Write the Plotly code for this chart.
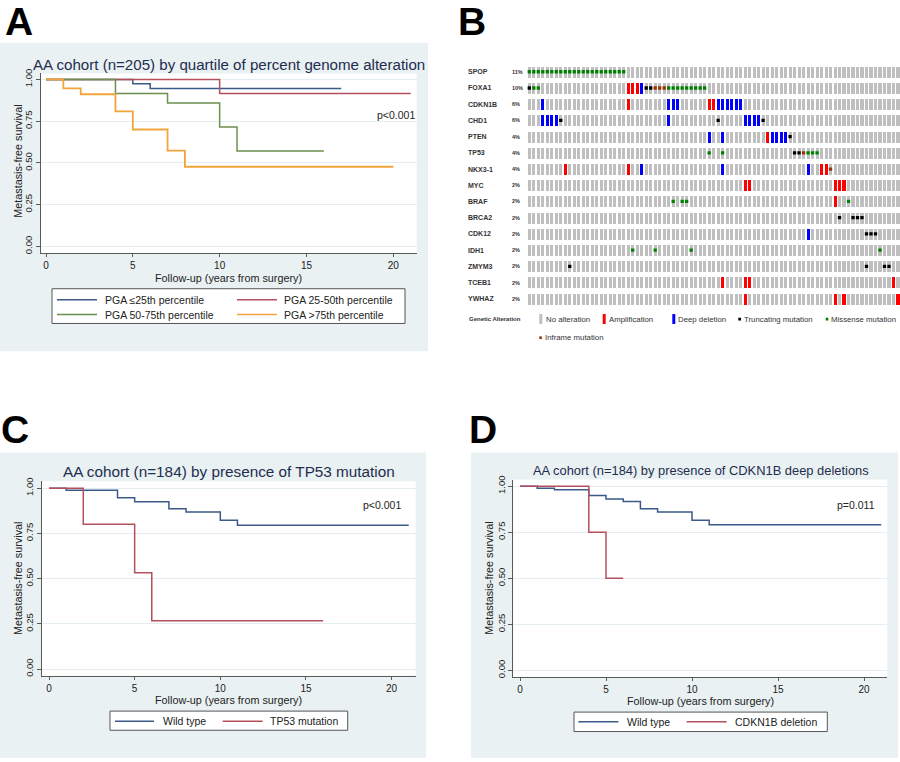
import plotly.graph_objects as go

W, H = 900, 762
FONT = "Arial, Liberation Sans, sans-serif"

# ---------------- data: panel A (KM by PGA quartile) ----------------
A_q1_t = [0, 5, 6, 17]
A_q1_s = [1.0, 0.974, 0.946, 0.946]
A_q2_t = [0, 10, 21]
A_q2_s = [1.0, 0.915, 0.915]
A_q3_t = [0, 4, 7, 10, 11, 16]
A_q3_s = [1.0, 0.915, 0.858, 0.715, 0.572, 0.572]
A_q4_t = [0, 1, 2, 4, 5, 7, 8, 20]
A_q4_s = [1.0, 0.946, 0.911, 0.808, 0.700, 0.574, 0.477, 0.477]
A_labels = ["PGA \u226425th percentile", "PGA 25-50th percentile",
            "PGA 50-75th percentile", "PGA >75th percentile"]

# ---------------- data: panel C (TP53) ----------------
C_wt_t = [0, 1, 4, 5, 7, 8, 10, 11, 21]
C_wt_s = [1.0, 0.989, 0.947, 0.925, 0.886, 0.868, 0.823, 0.795, 0.795]
C_mut_t = [0, 2, 5, 6, 16]
C_mut_s = [1.0, 0.80, 0.533, 0.267, 0.267]

# ---------------- data: panel D (CDKN1B) ----------------
D_wt_t = [0, 1, 2, 4, 5, 6, 7, 8, 10, 11, 21]
D_wt_s = [1.0, 0.989, 0.98, 0.95, 0.93, 0.917, 0.878, 0.86, 0.815, 0.79, 0.79]
D_del_t = [0, 4, 5, 6]
D_del_s = [1.0, 0.75, 0.5, 0.5]

x_ticks = [0, 5, 10, 15, 20]
y_ticks = [0, 0.25, 0.5, 0.75, 1.0]

# ---------------- data: panel B (oncoprint) ----------------
n_samples = 83
genes = ["SPOP", "FOXA1", "CDKN1B", "CHD1", "PTEN", "TP53", "NKX3-1", "MYC",
         "BRAF", "BRCA2", "CDK12", "IDH1", "ZMYM3", "TCEB1", "YWHAZ"]
gene_pct = ["11%", "10%", "6%", "6%", "4%", "4%", "4%", "2%",
            "2%", "2%", "2%", "2%", "2%", "2%", "2%"]
amplification = {
    "FOXA1": [22, 23, 24],
    "CDKN1B": [22, 40, 41],
    "PTEN": [53],
    "NKX3-1": [8, 22, 65, 66],
    "MYC": [48, 49, 68, 69, 70],
    "BRAF": [68],
    "TCEB1": [43, 48, 49, 81],
    "YWHAZ": [48, 68, 70, 82],
}
deep_deletion = {
    "FOXA1": [25],
    "CDKN1B": [3, 31, 32, 33, 42, 43, 44, 45, 46, 47],
    "CHD1": [3, 4, 5, 6, 31, 48, 49, 50, 51],
    "PTEN": [40, 43, 54, 55, 56, 57],
    "NKX3-1": [25, 43, 62],
    "CDK12": [62],
}
truncating = {
    "FOXA1": [0, 26, 27],
    "CHD1": [7, 42, 52],
    "PTEN": [58],
    "TP53": [59, 60],
    "BRCA2": [69, 72, 73, 74],
    "CDK12": [75, 76, 77],
    "ZMYM3": [9, 75, 79, 80],
}
missense = {
    "SPOP": [0, 1, 2, 3, 4, 5, 6, 7, 8, 9, 10, 11, 12, 13, 14, 15, 16, 17, 18, 19, 20, 21],
    "FOXA1": [1, 2, 31, 32, 33, 34, 35, 36, 37, 38, 39],
    "TP53": [40, 43, 62, 63, 64],
    "BRAF": [32, 34, 35, 71],
    "IDH1": [23, 28, 36, 78],
}
inframe = {
    "FOXA1": [28, 29, 30],
    "TP53": [61],
    "NKX3-1": [67],
}

# ---------------- colours ----------------
C_BLUE = "#3b5a87"
C_RED = "#b3505b"
C_GREEN = "#6b8f4c"
C_ORANGE = "#f2a53a"
BG = "#e9f1f3"
TITLE_C = "#1f2d4e"
AX_C = "#5a5a5a"


def px(x):
    return x / W


def py(y):
    return 1 - y / H


fig = go.Figure()
shapes = []
annots = []


def km_axes(name, xd, yd, x0px, xunit, y1px, y0px):
    """xd, yd: pixel extents of plot area; x0px: pixel of x=0, xunit px per year;
    y1px/y0px: pixel of survival 1 and 0."""
    yunit = y0px - y1px
    xr = [(xd[0] - x0px) / xunit, (xd[1] - x0px) / xunit]
    yr = [(y0px - yd[1]) / yunit, (y0px - yd[0]) / yunit]
    xa = dict(domain=[px(xd[0]), px(xd[1])], range=xr, tickvals=x_ticks,
              anchor="y" + name,
              ticks="outside", ticklen=3, tickcolor=AX_C, showline=True,
              linecolor=AX_C, linewidth=1, showgrid=False, zeroline=False,
              tickfont=dict(size=10, color="#222", family=FONT))
    ya = dict(domain=[py(yd[1]), py(yd[0])], range=yr, tickvals=y_ticks,
              anchor="x" + name,
              tickformat=".2f", tickangle=-90, ticks="outside", ticklen=4,
              tickcolor=AX_C, showline=True, linecolor=AX_C, linewidth=1,
              showgrid=True, gridcolor="#e4edf0", gridwidth=1, zeroline=False,
              tickfont=dict(size=9.5, color="#222", family=FONT))
    fig.layout["xaxis" + name] = xa
    fig.layout["yaxis" + name] = ya
    # white plot region drawn on the light panel background
    shapes.append(dict(type="rect", xref="paper", yref="paper", layer="below",
                       x0=px(xd[0]), x1=px(xd[1]), y0=py(yd[1]), y1=py(yd[0]),
                       fillcolor="white", line=dict(width=0)))


def panel_bg(x0, y0, x1, y1):
    shapes.append(dict(type="rect", xref="paper", yref="paper", layer="below",
                       x0=px(x0), x1=px(x1), y0=py(y1), y1=py(y0),
                       fillcolor=BG, line=dict(width=0)))


def text(x, y, s, size, color="#222", xanchor="center", angle=0, bold=False):
    if bold:
        s = "<b>" + s + "</b>"
    annots.append(dict(x=px(x), y=py(y), xref="paper", yref="paper", text=s,
                       showarrow=False, xanchor=xanchor, yanchor="middle",
                       textangle=angle, borderpad=0,
                       font=dict(size=size, color=color, family=FONT)))


def km_legend(box, items):
    x0, y0, x1, y1 = box
    shapes.append(dict(type="rect", xref="paper", yref="paper", x0=px(x0), x1=px(x1),
                       y0=py(y1), y1=py(y0), fillcolor="white",
                       line=dict(color="#555", width=1)))
    for lx0, lx1, tx, yy, col, lab in items:
        shapes.append(dict(type="line", xref="paper", yref="paper", x0=px(lx0), x1=px(lx1),
                           y0=py(yy), y1=py(yy), line=dict(color=col, width=1.5)))
        text(tx, yy, lab, 10.5, "#222", xanchor="left")


def step(t, s, col, xa, ya, width=1.5):
    fig.add_trace(go.Scatter(x=t, y=s, mode="lines", line=dict(color=col, width=width, shape="hv"),
                             xaxis=xa, yaxis=ya, showlegend=False, hoverinfo="skip"))


# ---------------- Panel A ----------------
panel_bg(0, 38, 428, 349)
km_axes("", (40.7, 416.7), (69, 250), 46, 17.365, 75, 243.3)
step(A_q1_t, A_q1_s, C_BLUE, "x", "y")
step(A_q2_t, A_q2_s, C_RED, "x", "y")
step(A_q3_t, A_q3_s, C_GREEN, "x", "y")
step(A_q4_t, A_q4_s, C_ORANGE, "x", "y", 1.8)
text(228.5, 59.5, "AA cohort (n=205) by quartile of percent genome alteration", 15.1, TITLE_C)
text(228, 275, "Follow-up (years from surgery)", 10.8)
text(18, 158, "Metastasis-free survival", 10.8, angle=-90)
text(416, 111, "p<0.001", 10.5, xanchor="right")
km_legend((52, 286, 405, 321), [
    (57, 97, 104, 297, C_BLUE, A_labels[0]),
    (237, 277, 283, 297, C_RED, A_labels[1]),
    (57, 97, 104, 312, C_GREEN, A_labels[2]),
    (237, 277, 283, 312, C_ORANGE, A_labels[3]),
])

# ---------------- Panel C ----------------
panel_bg(0, 451, 426, 759)
km_axes("2", (41.7, 415.7), (480, 676), 49, 17.13, 487, 669.3)
step(C_wt_t, C_wt_s, C_BLUE, "x2", "y2")
step(C_mut_t, C_mut_s, C_RED, "x2", "y2")
text(229, 470, "AA cohort (n=184) by presence of TP53 mutation", 15.3, TITLE_C)
text(229, 701, "Follow-up (years from surgery)", 10.8)
text(18.5, 578, "Metastasis-free survival", 10.8, angle=-90)
text(401.7, 504.3, "p<0.001", 10.5, xanchor="right")
km_legend((110, 711.7, 347.7, 731), [
    (115, 154, 161.7, 722, C_BLUE, "Wild type"),
    (222.7, 262.7, 269.3, 722, C_RED, "TP53 mutation"),
])

# ---------------- Panel D ----------------
panel_bg(471, 451, 898, 759)
km_axes("3", (513.3, 887.3), (478.3, 677.7), 520, 17.2, 485, 670.7)
step(D_wt_t, D_wt_s, C_BLUE, "x3", "y3")
step(D_del_t, D_del_s, C_RED, "x3", "y3")
text(700.5, 469, "AA cohort (n=184) by presence of CDKN1B deep deletions", 12.9, TITLE_C)
text(700.7, 702, "Follow-up (years from surgery)", 10.8)
text(489.3, 578, "Metastasis-free survival", 10.8, angle=-90)
text(876, 504, "p=0.011", 10.5, xanchor="right")
km_legend((574, 712.7, 827.3, 732.3), [
    (578.3, 618.3, 625.7, 722.5, C_BLUE, "Wild type"),
    (686.7, 726.7, 734, 722.5, C_RED, "CDKN1B deletion"),
])

# ---------------- Panel B: oncoprint ----------------
col0_px, col_dx = 529.3, 4.496
row0_px, row_dy = 67.3, 16.34
bx0, bx1, by0, by1 = 520, 900, 55, 305
fig.layout["xaxis4"] = dict(domain=[px(bx0), px(bx1)], anchor="y4",
                            range=[(bx0 - col0_px) / col_dx, (bx1 - col0_px) / col_dx],
                            visible=False, fixedrange=True)
fig.layout["yaxis4"] = dict(domain=[py(by1), py(by0)], anchor="x4",
                            range=[(by1 - row0_px) / row_dy, (by0 - row0_px) / row_dy],
                            visible=False, fixedrange=True)

bar_h = 0.68
bar_w = 0.68
gx, gy = [], []
for r, g in enumerate(genes):
    for c in range(n_samples):
        gx.append(c)
        gy.append(r)


def bars(dct, color):
    xs, ys = [], []
    for r, g in enumerate(genes):
        for c in dct.get(g, []):
            xs.append(c)
            ys.append(r)
    fig.add_trace(go.Bar(x=xs, y=[bar_h] * len(xs), base=[v - bar_h / 2 for v in ys],
                         width=bar_w, marker=dict(color=color, line=dict(width=0)),
                         xaxis="x4", yaxis="y4", showlegend=False, hoverinfo="skip"))


def muts(dct, color):
    xs, ys = [], []
    for r, g in enumerate(genes):
        for c in dct.get(g, []):
            xs.append(c)
            ys.append(r)
    fig.add_trace(go.Scatter(x=xs, y=ys, mode="markers",
                             marker=dict(symbol="square", size=3.3, color=color, line=dict(width=0)),
                             xaxis="x4", yaxis="y4", showlegend=False, hoverinfo="skip"))


fig.add_trace(go.Bar(x=gx, y=[bar_h] * len(gx), base=[v - bar_h / 2 for v in gy],
                     width=bar_w, marker=dict(color="#bfbfbf", line=dict(width=0)),
                     xaxis="x4", yaxis="y4", showlegend=False, hoverinfo="skip"))
bars(amplification, "#ff0000")
bars(deep_deletion, "#0000ff")
muts(truncating, "#000000")
muts(missense, "#008000")
muts(inframe, "#993404")

for r, g in enumerate(genes):
    annots.append(dict(x=px(466.7), y=r, xref="paper", yref="y4", text="<b>" + g + "</b>",
                       showarrow=False, xanchor="left", yanchor="middle", borderpad=0,
                       font=dict(size=7, color="#333", family=FONT)))
    annots.append(dict(x=px(510.7), y=r, xref="paper", yref="y4", text="<b>" + gene_pct[r] + "</b>",
                       showarrow=False, xanchor="left", yanchor="middle", borderpad=0,
                       font=dict(size=5.5, color="#333", family=FONT)))

# oncoprint legend
text(467.7, 316.5, "Genetic Alteration", 6, "#333", xanchor="left", bold=True)
leg_items = [
    (539.3, 542.3, 311.5, 321.5, "#bfbfbf", 545, 316.5, "No alteration"),
    (602.7, 605.7, 311.5, 321.5, "#ff0000", 608.3, 316.5, "Amplification"),
    (672.3, 675.3, 311.5, 321.5, "#0000ff", 677.3, 316.5, "Deep deletion"),
    (738.3, 741.0, 315.2, 318.0, "#000000", 742.7, 316.5, "Truncating mutation"),
    (825.7, 828.3, 315.2, 318.0, "#008000", 829.5, 316.5, "Missense mutation"),
    (539.3, 541.9, 334.0, 336.7, "#993404", 543.5, 335.3, "Inframe mutation"),
]
for x0, x1, y0, y1, col, tx, ty, lab in leg_items:
    shapes.append(dict(type="rect", xref="paper", yref="paper", x0=px(x0), x1=px(x1),
                       y0=py(y1), y1=py(y0), fillcolor=col, line=dict(width=0)))
    text(tx, ty, lab, 7.8, "#333", xanchor="left")

# ---------------- panel letters ----------------
for lx, ly, L in [(4, 16.5, "A"), (457, 16.5, "B"), (0, 428, "C"), (468, 428, "D")]:
    annots.append(dict(x=px(lx), y=py(ly), xref="paper", yref="paper", text="<b>" + L + "</b>",
                       showarrow=False, xanchor="left", yanchor="middle", borderpad=0,
                       font=dict(size=39, color="#000", family=FONT)))

fig.update_layout(width=W, height=H, margin=dict(l=0, r=0, t=0, b=0),
                  paper_bgcolor="white", plot_bgcolor="rgba(0,0,0,0)",
                  barmode="overlay", bargap=0, shapes=shapes, annotations=annots,
                  showlegend=False, font=dict(family=FONT))
fig.write_html("out.html", config={"displayModeBar": False},
               post_script="document.body.style.margin='0px';document.body.style.overflow='hidden';")
